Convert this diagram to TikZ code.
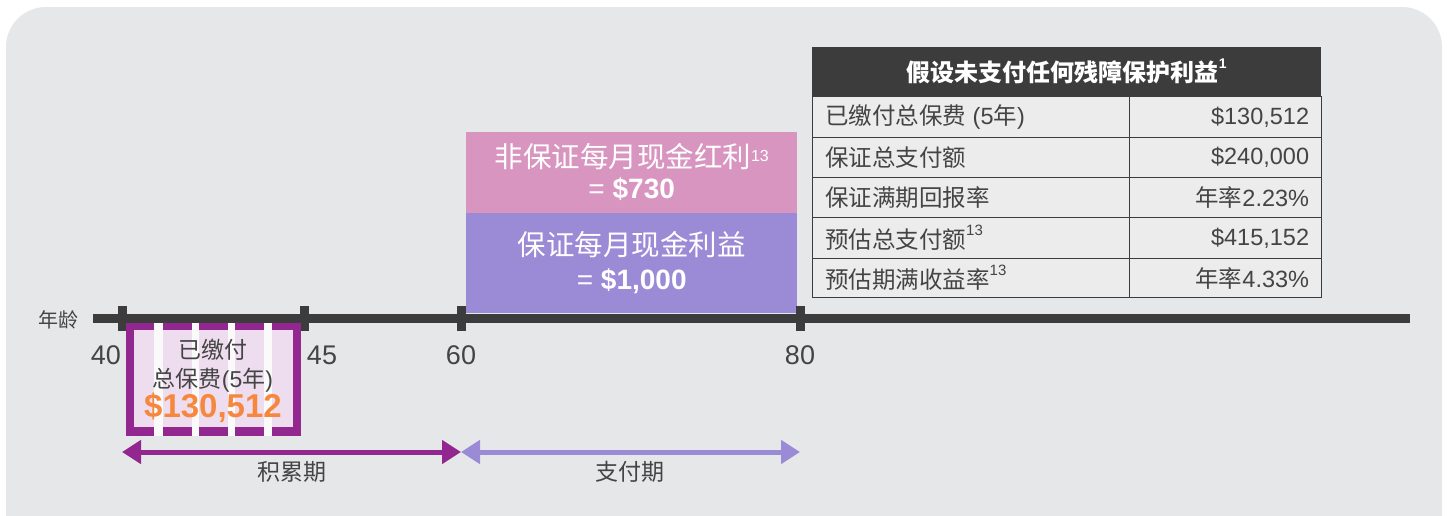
\documentclass[tikz,border=0pt]{standalone}
\usepackage{fontspec}
\setmainfont{Liberation Sans}
\newfontfamily\cjk{Noto Sans CJK SC}
\usetikzlibrary{arrows.meta}
\definecolor{bg}{HTML}{E6E7E9}
\definecolor{axis}{HTML}{3C3C3C}
\definecolor{purp}{HTML}{92278F}
\definecolor{lav}{HTML}{9B8AD6}
\definecolor{pinkbox}{HTML}{D795C0}
\definecolor{orng}{HTML}{F5883E}
\definecolor{pinkfill}{HTML}{EEDDEE}
\definecolor{stripe}{HTML}{FAFAFA}
\definecolor{cellfill}{HTML}{ECECEC}
\definecolor{txt}{HTML}{444444}
\newcommand{\fs}[1]{\fontsize{#1}{#1}\selectfont}
\newcommand{\supr}[1]{\raisebox{0.55em}{\fs{15}#1}}
\begin{document}
\begin{tikzpicture}[x=1pt,y=-1pt,
  lbl/.style={text=txt,inner sep=0pt},
  num/.style={text=txt,inner sep=0pt,font=\fs{27}},
  tick/.style={fill=axis,minimum width=9pt,minimum height=25pt,inner sep=0pt},
  cellbox/.style={draw=axis,line width=1.3pt,fill=cellfill,anchor=north west,inner sep=0pt},
  celltxt/.style={text=txt,inner sep=0pt,font=\fs{23.5}},
  bigbox/.style={anchor=north west,inner sep=0pt,text=white,align=center},
  period/.style={line width=5pt}
]
\useasboundingbox (0,0) rectangle (1450,515);
\begin{scope}
\clip (0,0) rectangle (1450,515);
\fill[white] (0,0) rectangle (1450,515);
\fill[bg,rounded corners=40pt] (6,7) rectangle (1442,580);
\end{scope}

% payout boxes
\node[bigbox,fill=pinkbox,minimum width=331pt,minimum height=81pt] (bonus) at (466,132) {};
\node[text=white,align=center,inner sep=0pt] (bonustxt) at ([yshift=1pt]bonus.center)
  {{\fs{28.5}\cjk 非保证每月现金红利}\raisebox{0.6em}{\fs{16}13}\\[7pt]{\fs{28}= \bfseries\$730}};
\node[bigbox,fill=lav,minimum width=331pt,minimum height=100pt] (guar) at (466,213) {};
\node[text=white,align=center,inner sep=0pt] (guartxt) at ([yshift=1pt]guar.center)
  {{\fs{28.5}\cjk 保证每月现金利益}\\[10pt]{\fs{28}= \bfseries\$1,000}};

% timeline
\coordinate (axL) at (93,318.5);
\coordinate (axR) at (1410,318.5);
\draw[axis,line width=9pt] (axL) -- (axR);
\node[tick] (t40) at (122.5,318.5) {};
\node[tick] (t45) at (304.5,318.5) {};
\node[tick] (t60) at (461.5,318.5) {};
\node[tick] (t80) at (800.5,318.5) {};
\node[lbl,font=\fs{20}] (age) at (58,320) {\cjk 年龄};
\node[num] (n40) at (106,355) {40};
\node[num] (n45) at (322,355) {45};
\node[num] (n60) at (461,355) {60};
\node[num] (n80) at (800,355) {80};

% premium box (5 years)
\fill[pinkfill] (126,323) rectangle (301,436);
\foreach \a/\b in {154/163,192/199,228/235,264/272}{
  \fill[stripe] (\a,323) rectangle (\b,436);
}
\foreach \a/\b in {126/154,163/192,199/228,235/264,272/301}{
  \fill[purp] (\a,323) rectangle (\b,330);
  \fill[purp] (\a,427) rectangle (\b,436);
}
\fill[purp] (126,323) rectangle (134,436);
\fill[purp] (293,323) rectangle (301,436);
\node[lbl,font=\fs{23}] (prem1) at (213,350) {\cjk 已缴付};
\node[lbl,font=\fs{23}] (prem2) at (213,380) {{\cjk 总保费}(5{\cjk 年})};
\node[inner sep=0pt,text=orng,font=\bfseries\fs{33}] (prem3) at (213,408) {\$130,512};

% periods
\coordinate (pA) at (122,452);
\coordinate (pB) at (461,452);
\coordinate (pC) at (800,452);
\draw[period,purp,{Triangle[length=19pt,width=23pt]}-{Triangle[length=19pt,width=23pt]}] (pA) -- (pB);
\draw[period,lav,{Triangle[length=19pt,width=23pt]}-{Triangle[length=19pt,width=23pt]}] (pB) -- (pC);
\node[lbl,font=\fs{23}] (acc) at (292,472) {\cjk 积累期};
\node[lbl,font=\fs{23}] (pay) at (630,472) {\cjk 支付期};

% table
\node[anchor=north west,fill=axis,minimum width=509pt,minimum height=49pt,inner sep=0pt] (head) at (812,47) {};
\node[text=white,inner sep=0pt,font=\fs{24}] (headtxt) at (head.center) {{\cjk\bfseries 假设未支付任何残障保护利益}\raisebox{0.55em}{\fs{14}\bfseries 1}};
\foreach \i/\ya/\yb/\lt/\rt in {
  1/96/137/{{\cjk 已缴付总保费} (5{\cjk 年})}/{\$130,512},
  2/137/177/{{\cjk 保证总支付额}}/{\$240,000},
  3/177/217/{{\cjk 保证满期回报率}}/{{\cjk 年率}2.23\%},
  4/217/258/{{\cjk 预估总支付额}\supr{13}}/{\$415,152},
  5/258/297/{{\cjk 预估期满收益率}\supr{13}}/{{\cjk 年率}4.33\%}}{
  \node[cellbox,minimum width=317pt,minimum height={(\yb-\ya)*1pt}] (L\i) at (812,\ya) {};
  \node[cellbox,minimum width=192pt,minimum height={(\yb-\ya)*1pt}] (R\i) at (1129,\ya) {};
  \node[celltxt,anchor=west] (LT\i) at ([xshift=13pt]L\i.west) {\lt};
  \node[celltxt,anchor=east] (RT\i) at ([xshift=-13pt]R\i.east) {\rt};
}
\end{tikzpicture}
\end{document}
